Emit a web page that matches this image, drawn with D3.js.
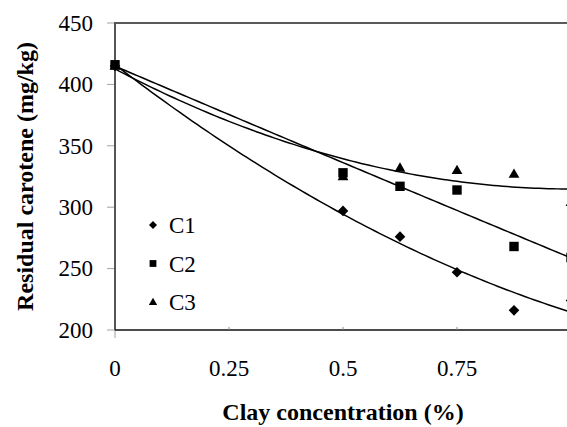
<!DOCTYPE html>
<meta charset="utf-8">
<head>
<style>
  body { margin: 0; background: #fff; }
  svg { display: block; background: #fff; }
  .tick-label { font: 23px "Liberation Serif", "Times New Roman", serif; fill: #000; }
  .axis-title { font: bold 24px "Liberation Serif", "Times New Roman", serif; fill: #000; }
  .legend-text { font: 23px "Liberation Serif", "Times New Roman", serif; fill: #000; }
</style>
</head>
<body>
<script src="https://d3js.org/d3.v7.min.js"></script>
<script>

// data
var concentration = [0, 0.5, 0.625, 0.75, 0.875, 1];
var c1 = [415, 297, 276, 247, 216, 224];
var c2 = [416, 328, 317, 314, 268, 259];
var c3 = [415, 325, 332, 330, 327, 304];
var seriesNames = ["C1", "C2", "C3"];
var xTicks = [0, 0.25, 0.5, 0.75];
var yTicks = [200, 250, 300, 350, 400, 450];

var series = [
  {name: seriesNames[0], values: c1, shape: "diamond"},
  {name: seriesNames[1], values: c2, shape: "square"},
  {name: seriesNames[2], values: c3, shape: "triangle"}
];

var W = 567, H = 427;
var plotLeft = 115, plotTop = 23, plotBottom = 330;
var x = d3.scaleLinear().domain([0, 1]).range([plotLeft, plotLeft + 456]);
var y = d3.scaleLinear().domain([200, 450]).range([plotBottom, plotTop]);

var svg = d3.select("body").append("svg")
    .attr("width", W)
    .attr("height", H);

// marker paths
function marker(shape, s) {
  if (shape == "diamond") return "M0," + (-s) + "L" + s + ",0L0," + s + "L" + (-s) + ",0Z";
  if (shape == "square") return "M" + (-s) + "," + (-s) + "h" + 2 * s + "v" + 2 * s + "h" + (-2 * s) + "Z";
  var h = s * Math.sqrt(3);
  return "M0," + (-h * 0.6) + "L" + s + "," + (h * 0.4) + "L" + (-s) + "," + (h * 0.4) + "Z";
}
var markerSize = {diamond: 5.3, square: 4.7, triangle: 5.4};
var legendSize = {diamond: 4, square: 3.4, triangle: 4.2};

// second order polynomial trendline (least squares) from the points
function quadFit(xs, ys) {
  var s = [0, 0, 0, 0, 0], t = [0, 0, 0];
  xs.forEach(function(xv, i) {
    for (var k = 0; k < 5; k++) s[k] += Math.pow(xv, k);
    for (var k = 0; k < 3; k++) t[k] += Math.pow(xv, k) * ys[i];
  });
  var A = [[s[0], s[1], s[2], t[0]], [s[1], s[2], s[3], t[1]], [s[2], s[3], s[4], t[2]]];
  for (var i = 0; i < 3; i++) {
    for (var j = i + 1; j < 3; j++) {
      var f = A[j][i] / A[i][i];
      for (var k = i; k < 4; k++) A[j][k] -= f * A[i][k];
    }
  }
  var c = [0, 0, 0];
  for (var i = 2; i >= 0; i--) {
    var v = A[i][3];
    for (var k = i + 1; k < 3; k++) v -= A[i][k] * c[k];
    c[i] = v / A[i][i];
  }
  return function(xv) { return c[0] + c[1] * xv + c[2] * xv * xv; };
}

// frame: top border
svg.append("line")
    .attr("x1", plotLeft).attr("x2", W)
    .attr("y1", plotTop).attr("y2", plotTop)
    .attr("stroke", "#5a5a5a").attr("stroke-width", 2);

// y axis
var yAxis = svg.append("g").attr("transform", "translate(" + plotLeft + ",0)");
yAxis.selectAll("line.tk")
    .data(yTicks)
  .enter().append("line")
    .attr("x1", -8).attr("x2", 0)
    .attr("y1", function(d) { return y(d); })
    .attr("y2", function(d) { return y(d); })
    .attr("stroke", "#a0a0a0").attr("stroke-width", 1);
yAxis.append("line")
    .attr("x1", 0).attr("x2", 0)
    .attr("y1", plotTop).attr("y2", plotBottom + 8)
    .attr("stroke", "#a0a0a0").attr("stroke-width", 1);
yAxis.append("line")
    .attr("x1", 0).attr("x2", 0)
    .attr("y1", plotTop - 1).attr("y2", plotBottom)
    .attr("stroke", "#555").attr("stroke-width", 2);
yAxis.selectAll("text")
    .data(yTicks)
  .enter().append("text")
    .attr("class", "tick-label")
    .attr("x", -22)
    .attr("y", function(d) { return y(d); })
    .attr("dy", "0.34em")
    .attr("text-anchor", "end")
    .text(function(d) { return d; });

// x axis
svg.append("line")
    .attr("x1", plotLeft).attr("x2", W)
    .attr("y1", plotBottom).attr("y2", plotBottom)
    .attr("stroke", "#111").attr("stroke-width", 1.5);
svg.selectAll("line.xt")
    .data(xTicks.slice(1))
  .enter().append("line")
    .attr("x1", function(d) { return x(d); })
    .attr("x2", function(d) { return x(d); })
    .attr("y1", plotBottom - 3).attr("y2", plotBottom)
    .attr("stroke", "#888").attr("stroke-width", 1);
svg.selectAll("text.xl")
    .data(xTicks)
  .enter().append("text")
    .attr("class", "tick-label")
    .attr("x", function(d) { return x(d); })
    .attr("y", plotBottom + 38)
    .attr("dy", "0.34em")
    .attr("text-anchor", "middle")
    .text(function(d) { return d; });

// axis titles
svg.append("text")
    .attr("class", "axis-title")
    .attr("x", x(0.5))
    .attr("y", 420)
    .attr("text-anchor", "middle")
    .text("Clay concentration (%)");
svg.append("text")
    .attr("class", "axis-title")
    .attr("transform", "translate(33," + ((plotTop + plotBottom) / 2) + ") rotate(-90)")
    .attr("text-anchor", "middle")
    .text("Residual carotene (mg/kg)");

// trendlines
var line = d3.line()
    .x(function(d) { return x(d[0]); })
    .y(function(d) { return y(d[1]); });
var steps = d3.range(0, 101).map(function(i) { return i / 100; });
series.forEach(function(s) {
  var f = quadFit(concentration, s.values);
  svg.append("path")
      .attr("d", line(steps.map(function(xv) { return [xv, f(xv)]; })))
      .attr("fill", "none")
      .attr("stroke", "#000")
      .attr("stroke-width", 1.5);
});

// points
series.forEach(function(s) {
  svg.append("g").selectAll("path")
      .data(s.values)
    .enter().append("path")
      .attr("transform", function(d, i) { return "translate(" + x(concentration[i]) + "," + y(d) + ")"; })
      .attr("d", marker(s.shape, markerSize[s.shape]))
      .attr("fill", "#000");
});

// legend
var legend = svg.append("g");
series.forEach(function(s, i) {
  var ly = 225 + i * 38.5;
  legend.append("path")
      .attr("transform", "translate(153," + ly + ")")
      .attr("d", marker(s.shape, legendSize[s.shape]))
      .attr("fill", "#000");
  legend.append("text")
      .attr("class", "legend-text")
      .attr("x", 169)
      .attr("y", ly)
      .attr("dy", "0.36em")
      .text(s.name);
});

</script>
</body>
